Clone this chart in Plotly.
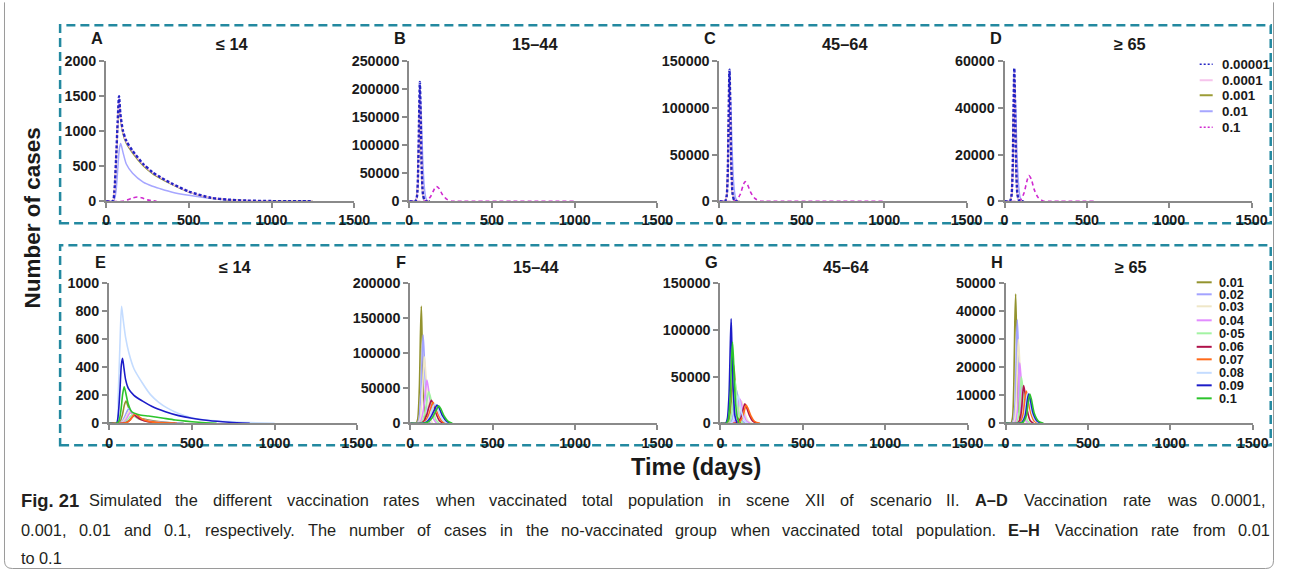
import plotly.graph_objects as go

# Layout positions below are written in page pixels of the final 1290 x 577 image.
# The page keeps a small body margin and the capture is rescaled by (SX, SY),
# so page pixels are converted to figure pixels before use.
FIG_W, FIG_H = 1290, 577
MARGIN_X, MARGIN_Y = 5, 8
SX, SY = 0.984, 0.972
FS = 1 / ((SX + SY) / 2)          # font-size compensation for the rescale

# ---------------------------------------------------------------- data
TOP_RATES = ["0.00001", "0.0001", "0.001", "0.01", "0.1"]
BOTTOM_RATES = ["0.01", "0.02", "0.03", "0.04", "0·05", "0.06", "0.07", "0.08", "0.09", "0.1"]
X_TICKS = [0, 500, 1000, 1500]

# A: <=14, rates 0.00001 .. 0.1
A_DAYS = [
    [0, 40, 50, 60, 70, 78, 86, 102, 122, 160, 224, 280, 327, 400, 500, 633, 735, 850, 1000, 1100, 1180, 1250],
    [0, 40, 50, 60, 70, 78, 86, 102, 122, 160, 224, 280, 327, 400, 500, 633, 735, 850, 1000, 1100, 1180, 1250],
    [0, 40, 50, 60, 70, 78, 86, 102, 122, 160, 224, 280, 327, 400, 500, 633, 735, 850, 1000, 1100, 1180, 1250],
    [0, 40, 50, 60, 70, 80, 88, 102, 122, 160, 224, 280, 327, 400, 500, 600, 700, 800],
    [0, 100, 130, 160, 188, 215, 250, 305],
]
A_CASES = [
    [0, 0, 150, 600, 1150, 1500, 1250, 1005, 863, 720, 533, 415, 345, 250, 140, 50, 24, 10, 3, 0, 0, 0],
    [0, 0, 145, 590, 1130, 1480, 1235, 990, 852, 710, 525, 409, 340, 246, 137, 49, 23, 10, 3, 0, 0, 0],
    [0, 0, 140, 570, 1100, 1445, 1205, 965, 830, 690, 508, 396, 328, 237, 131, 46, 21, 9, 2, 0, 0, 0],
    [0, 0, 30, 150, 450, 750, 825, 698, 533, 400, 274, 215, 180, 130, 85, 50, 25, 0],
    [0, 0, 20, 48, 61, 50, 20, 0],
]
# B: 15-44
B_DAYS = [
    [0, 36, 46, 53, 59, 64, 69, 75, 83, 95, 110, 125],
    [0, 36, 46, 53, 59, 64, 69, 75, 83, 95, 110, 125],
    [0, 36, 46, 53, 59, 64, 69, 75, 83, 95, 110, 125],
    [0, 36, 46, 53, 59, 65, 72, 80, 90, 100, 112, 125],
    [0, 90, 110, 130, 150, 164, 180, 200, 225, 260, 290, 320, 1000],
]
B_CASES = [
    [0, 0, 8000, 50000, 145000, 213000, 150000, 60000, 12000, 0, 0, 0],
    [0, 0, 7500, 48000, 140000, 207000, 146000, 58000, 11500, 0, 0, 0],
    [0, 0, 7000, 46000, 136000, 200000, 142000, 56000, 11000, 0, 0, 0],
    [0, 0, 9000, 52000, 140000, 195000, 160000, 85000, 28000, 6000, 0, 0],
    [0, 0, 2000, 9000, 21000, 26500, 23000, 12000, 4000, 0, 0, 0, 0],
]
# C: 45-64
C_DAYS = [
    [0, 34, 44, 51, 56, 61, 66, 72, 80, 92, 105, 120],
    [0, 34, 44, 51, 56, 61, 66, 72, 80, 92, 105, 120],
    [0, 34, 44, 51, 56, 61, 66, 72, 80, 92, 105, 120],
    [0, 34, 44, 51, 57, 62, 69, 77, 87, 97, 110, 125],
    [0, 85, 105, 125, 143, 155, 170, 190, 215, 250, 280, 310, 1000],
]
C_CASES = [
    [0, 0, 6000, 35000, 95000, 141000, 100000, 40000, 8000, 0, 0, 0],
    [0, 0, 5800, 34000, 92000, 137000, 97000, 39000, 7800, 0, 0, 0],
    [0, 0, 5600, 33000, 89000, 133000, 94000, 37500, 7500, 0, 0, 0],
    [0, 0, 6000, 34000, 90000, 128000, 104000, 55000, 18000, 4000, 0, 0],
    [0, 0, 1500, 7000, 16500, 21000, 18000, 9500, 3000, 0, 0, 0, 0],
]
# D: >=65
D_DAYS = [
    [0, 32, 42, 49, 54, 59, 64, 70, 78, 90, 102, 115],
    [0, 32, 42, 49, 54, 59, 64, 70, 78, 90, 102, 115],
    [0, 32, 42, 49, 54, 59, 64, 70, 78, 90, 102, 115],
    [0, 32, 42, 49, 55, 60, 67, 75, 85, 95, 108, 120],
    [0, 80, 100, 118, 135, 148, 162, 180, 205, 240, 270, 300, 550],
]
D_CASES = [
    [0, 0, 2500, 14000, 38000, 57000, 40000, 16000, 3000, 0, 0, 0],
    [0, 0, 2400, 13500, 37000, 55500, 39000, 15500, 2900, 0, 0, 0],
    [0, 0, 2300, 13000, 36000, 54000, 38000, 15000, 2800, 0, 0, 0],
    [0, 0, 2400, 13000, 35000, 51000, 41000, 21000, 7000, 1500, 0, 0],
    [0, 0, 800, 3500, 8500, 11000, 9500, 5000, 1500, 0, 0, 0, 0],
]
# E: <=14, rates 0.01 .. 0.1
E_DAYS = [
    [0, 45, 65, 80, 92, 102, 115, 136, 180, 238, 340, 450],
    [0, 50, 75, 95, 110, 120, 135, 160, 200, 260, 350, 450],
    [0, 55, 80, 100, 115, 125, 140, 165, 210, 280, 380],
    [0, 60, 85, 105, 120, 132, 148, 172, 215, 285, 390],
    [0, 65, 92, 112, 128, 140, 156, 180, 225, 295, 400],
    [0, 75, 100, 122, 140, 152, 168, 192, 235, 300, 400],
    [0, 78, 105, 128, 146, 158, 174, 198, 240, 305, 410],
    [0, 45, 55, 65, 75, 85, 100, 120, 150, 200, 250, 300, 350, 420, 500, 600, 725, 850, 1000],
    [0, 45, 55, 65, 74, 81, 90, 100, 116, 150, 200, 260, 340, 420, 500, 600, 725, 850],
    [0, 45, 60, 72, 82, 91, 100, 115, 136, 180, 238, 320, 400, 542, 650],
]
E_CASES = [
    [0, 0, 10, 60, 130, 159, 120, 71, 40, 24, 8, 0],
    [0, 0, 10, 50, 90, 107, 85, 55, 30, 15, 5, 0],
    [0, 0, 8, 40, 75, 90, 70, 45, 22, 8, 0],
    [0, 0, 6, 32, 65, 80, 62, 40, 20, 7, 0],
    [0, 0, 5, 25, 50, 60, 48, 30, 15, 5, 0],
    [0, 0, 4, 20, 45, 58, 45, 27, 12, 4, 0],
    [0, 0, 5, 25, 55, 70, 55, 32, 14, 5, 0],
    [0, 0, 200, 550, 835, 740, 610, 500, 390, 290, 205, 150, 110, 70, 40, 22, 12, 5, 0],
    [0, 0, 60, 230, 420, 465, 390, 310, 250, 200, 160, 120, 83, 55, 36, 20, 8, 0],
    [0, 0, 20, 100, 210, 261, 220, 140, 83, 62, 52, 38, 24, 8, 0],
]
# F: 15-44
F_DAYS = [
    [0, 35, 45, 55, 62, 67, 72, 80, 90, 100],
    [0, 40, 52, 62, 72, 78, 85, 95, 108, 120],
    [0, 45, 58, 70, 80, 86, 93, 105, 120, 135],
    [0, 50, 65, 80, 93, 101, 110, 125, 142, 160],
    [0, 55, 72, 88, 104, 112, 122, 138, 156, 175],
    [0, 60, 80, 98, 118, 128, 140, 158, 178, 200],
    [0, 65, 88, 108, 128, 138, 150, 170, 192, 215],
    [0, 70, 94, 115, 138, 148, 160, 180, 204, 228],
    [0, 75, 100, 122, 150, 162, 175, 195, 220, 245],
    [0, 80, 108, 132, 160, 172, 185, 205, 230, 255],
]
F_CASES = [
    [0, 0, 6000, 50000, 130000, 167000, 120000, 45000, 8000, 0],
    [0, 0, 5000, 35000, 95000, 126000, 95000, 40000, 8000, 0],
    [0, 0, 5000, 30000, 75000, 95000, 75000, 35000, 8000, 0],
    [0, 0, 4000, 20000, 48000, 62000, 50000, 25000, 6000, 0],
    [0, 0, 3000, 15000, 36000, 45000, 38000, 19000, 5000, 0],
    [0, 0, 2500, 11000, 27000, 33000, 27000, 13000, 3500, 0],
    [0, 0, 2200, 10000, 24500, 30000, 25000, 12000, 3200, 0],
    [0, 0, 2100, 9000, 23000, 28000, 23500, 11500, 3000, 0],
    [0, 0, 2000, 8000, 21000, 26200, 22000, 11000, 3000, 0],
    [0, 0, 1900, 7500, 20000, 25000, 21000, 10500, 2800, 0],
]
# G: 45-64
G_DAYS = [
    [0, 38, 52, 63, 73, 80, 87, 97, 110, 125],
    [0, 50, 66, 78, 90, 97, 105, 117, 132, 150],
    [0, 70, 90, 106, 120, 128, 137, 152, 170, 192],
    [0, 62, 82, 98, 110, 118, 127, 142, 160, 180],
    [0, 44, 58, 70, 82, 88, 95, 106, 120, 136],
    [0, 85, 105, 124, 140, 148, 158, 176, 198, 225],
    [0, 90, 112, 132, 148, 156, 166, 185, 208, 240],
    [0, 56, 74, 88, 101, 108, 116, 130, 147, 165],
    [0, 32, 42, 52, 60, 65, 70, 78, 88, 100],
    [0, 35, 47, 58, 67, 73, 79, 88, 100, 112],
]
G_CASES = [
    [0, 0, 3000, 18000, 48000, 63000, 50000, 22000, 5000, 0],
    [0, 0, 2000, 10000, 28000, 36000, 29000, 13000, 3000, 0],
    [0, 0, 1500, 7000, 19000, 24000, 19500, 9000, 2000, 0],
    [0, 0, 1500, 7500, 20500, 26000, 21000, 9500, 2200, 0],
    [0, 0, 2500, 13000, 36000, 46000, 37000, 16000, 4000, 0],
    [0, 0, 1300, 6000, 16500, 21000, 17500, 8500, 2000, 0],
    [0, 0, 1200, 5500, 15500, 19500, 16500, 8000, 1800, 0],
    [0, 0, 1800, 8500, 23500, 30000, 24000, 11000, 2500, 0],
    [0, 0, 5000, 30000, 85000, 112000, 80000, 34000, 8000, 0],
    [0, 0, 4000, 25000, 65000, 87000, 70000, 32000, 8000, 0],
]
# H: >=65
H_DAYS = [
    [0, 32, 42, 50, 56, 61, 66, 73, 82, 95],
    [0, 38, 50, 59, 66, 71, 77, 85, 96, 110],
    [0, 42, 55, 65, 73, 78, 85, 94, 106, 120],
    [0, 48, 62, 73, 81, 86, 93, 104, 118, 135],
    [0, 55, 70, 82, 91, 96, 104, 116, 132, 150],
    [0, 62, 80, 94, 104, 110, 118, 132, 150, 170],
    [0, 70, 90, 106, 118, 126, 136, 152, 174, 200],
    [0, 76, 97, 114, 126, 134, 144, 160, 184, 210],
    [0, 80, 101, 119, 132, 140, 150, 167, 192, 220],
    [0, 86, 107, 126, 139, 147, 157, 174, 200, 230],
]
H_CASES = [
    [0, 0, 2000, 14000, 36000, 46200, 34000, 13000, 2500, 0],
    [0, 0, 1600, 10000, 28000, 37000, 28000, 11000, 2200, 0],
    [0, 0, 1300, 8000, 23000, 30000, 23000, 9000, 1800, 0],
    [0, 0, 900, 5500, 16500, 21600, 17000, 7000, 1400, 0],
    [0, 0, 700, 4200, 12500, 16500, 13000, 5500, 1100, 0],
    [0, 0, 600, 3500, 10500, 13500, 10800, 4500, 900, 0],
    [0, 0, 500, 3000, 9000, 11500, 9300, 3900, 800, 0],
    [0, 0, 450, 2800, 8400, 10800, 8700, 3700, 750, 0],
    [0, 0, 450, 2700, 8200, 10500, 8500, 3600, 750, 0],
    [0, 0, 450, 2700, 8200, 10500, 8500, 3600, 750, 0],
]

CAPTION_LABEL = "Fig. 21"
CAPTION_LINES = [
    "Simulated the different vaccination rates when vaccinated total population in scene XII "
    "of scenario II. <b>A–D</b> Vaccination rate was 0.0001,",
    "0.001, 0.01 and 0.1, respectively. The number of cases in the no-vaccinated group when "
    "vaccinated total population. <b>E–H</b> Vaccination rate from 0.01",
    "to 0.1",
]

# ---------------------------------------------------------------- styles
TOP_COLORS = ["#2424c4", "#f6c4ec", "#9c9c36", "#a6a6ff", "#d02ad0"]
TOP_DASH = ["3px,2px", "solid", "solid", "solid", "4px,3px"]
TOP_WIDTH = [2.4, 1.5, 1.5, 1.5, 1.6]
TOP_DRAW_ORDER = [3, 2, 1, 4, 0]
BOTTOM_COLORS = ["#93932e", "#a3a3ff", "#efe7c8", "#e28cff", "#a3f3a3",
                 "#b0124a", "#ff6a1a", "#c4dcff", "#1c1cc8", "#2cc42c"]

AXIS_GREY = "#8a8a8a"
TEXT_DARK = "#1a1a1a"
TEAL = "#2389a0"
FONT = "Liberation Sans, Arial, sans-serif"

# Arial / Liberation Sans advance widths (1/1000 em) used to justify the caption
ARIAL_ADV = {" ": 278, ",": 278, ".": 278, "-": 333, "–": 556, "(": 333, ")": 333,
             "A": 667, "D": 722, "E": 667, "H": 722, "I": 278, "T": 611, "V": 667, "X": 667,
             "a": 556, "b": 556, "c": 500, "d": 556, "e": 556, "f": 278, "g": 556, "h": 556,
             "i": 222, "j": 222, "k": 500, "l": 222, "m": 833, "n": 556, "o": 556, "p": 556,
             "q": 556, "r": 333, "s": 500, "t": 278, "u": 556, "v": 500, "w": 722, "x": 500,
             "y": 500, "z": 500}


def fx(px):
    """page pixel column -> figure pixel column"""
    return px / SX - MARGIN_X


def fy(py):
    """page pixel row -> figure pixel row"""
    return py / SY - MARGIN_Y


def X(px):
    return fx(px) / FIG_W


def Y(py):
    return 1 - fy(py) / FIG_H


def fsize(s):
    return round(s * FS, 2)


def word_width(word, size):
    """advance width of a word in figure pixels"""
    bold = word.startswith("<b>")
    plain = word.replace("<b>", "").replace("</b>", "")
    units = sum(ARIAL_ADV.get(ch, 556) for ch in plain)
    return units * size / 1000 * (1.05 if bold else 1.0)


panels = [
    # letter, title, days, cases, group, ymax, dtick, x0, x1, ytop, ybottom
    ("A", "≤ 14", A_DAYS, A_CASES, "top", 2000, 500, 107, 355, 61, 201),
    ("B", "15–44", B_DAYS, B_CASES, "top", 250000, 50000, 410, 658, 61, 201),
    ("C", "45–64", C_DAYS, C_CASES, "top", 150000, 50000, 720, 967, 61, 201),
    ("D", "≥ 65", D_DAYS, D_CASES, "top", 60000, 20000, 1005, 1252, 61, 201),
    ("E", "≤ 14", E_DAYS, E_CASES, "bottom", 1000, 200, 110, 358, 283, 423),
    ("F", "15–44", F_DAYS, F_CASES, "bottom", 200000, 50000, 411, 658, 283, 423),
    ("G", "45–64", G_DAYS, G_CASES, "bottom", 150000, 50000, 721, 968, 283, 423),
    ("H", "≥ 65", H_DAYS, H_CASES, "bottom", 50000, 10000, 1006, 1253, 283, 423),
]

fig = go.Figure()
layout = dict(
    width=FIG_W, height=FIG_H, margin=dict(l=0, r=0, t=0, b=0, pad=0),
    paper_bgcolor="white", plot_bgcolor="rgba(0,0,0,0)", showlegend=False,
)
annotations = []
shapes = []

for i, (letter, title, days, cases, group, ymax, dtick, x0, x1, yt, yb) in enumerate(panels, start=1):
    suffix = "" if i == 1 else str(i)
    axis_common = dict(
        showline=True, linecolor=AXIS_GREY, linewidth=2,
        ticks="outside", ticklen=5, tickwidth=1.5, tickcolor=AXIS_GREY,
        showgrid=False, zeroline=False, fixedrange=True,
        tickfont=dict(family=FONT, size=fsize(14), color=TEXT_DARK, weight="bold"),
        tickformat="d",
    )
    layout["xaxis" + suffix] = dict(axis_common, domain=[X(x0), X(x1)], range=[0, 1500],
                                    tickvals=X_TICKS, anchor="y" + suffix)
    layout["yaxis" + suffix] = dict(axis_common, domain=[Y(yb), Y(yt)], range=[0, ymax],
                                    tickvals=list(range(0, ymax + 1, dtick)), anchor="x" + suffix)

    if group == "top":
        for k in TOP_DRAW_ORDER:
            fig.add_trace(go.Scatter(
                x=days[k], y=cases[k], mode="lines", name=TOP_RATES[k],
                line=dict(color=TOP_COLORS[k], width=TOP_WIDTH[k], dash=TOP_DASH[k],
                          shape="spline", smoothing=0.7),
                xaxis="x" + suffix, yaxis="y" + suffix, hoverinfo="skip",
            ))
    else:
        for k in range(len(BOTTOM_RATES)):
            fig.add_trace(go.Scatter(
                x=days[k], y=cases[k], mode="lines", name=BOTTOM_RATES[k],
                line=dict(color=BOTTOM_COLORS[k], width=1.6, shape="spline", smoothing=0.7),
                xaxis="x" + suffix, yaxis="y" + suffix, hoverinfo="skip",
            ))

    # panel letter and age-group title
    ly = 38 if group == "top" else 262
    ty = 44 if group == "top" else 267
    annotations.append(dict(
        text=f"<b>{letter}</b>", x=X(x0 - 9), y=Y(ly), xref="paper", yref="paper",
        xanchor="center", yanchor="middle", showarrow=False,
        font=dict(family=FONT, size=fsize(16), color=TEXT_DARK)))
    annotations.append(dict(
        text=f"<b>{title}</b>", x=X((x0 + x1) / 2 + 2), y=Y(ty), xref="paper", yref="paper",
        xanchor="center", yanchor="middle", showarrow=False,
        font=dict(family=FONT, size=fsize(16), color=TEXT_DARK)))

# ---------------------------------------------------------------- legends
top_leg_y = [64, 80, 95, 111, 127]
for k, rate in enumerate(TOP_RATES):
    shapes.append(dict(type="line", xref="paper", yref="paper",
                       x0=X(1200), x1=X(1213), y0=Y(top_leg_y[k]), y1=Y(top_leg_y[k]),
                       line=dict(color=TOP_COLORS[k], width=1.6 if k in (0, 4) else 2,
                                 dash="2px,2px" if k in (0, 4) else "solid")))
    annotations.append(dict(
        text=f"<b>{rate}</b>", x=X(1220), y=Y(top_leg_y[k]), xref="paper", yref="paper",
        xanchor="left", yanchor="middle", showarrow=False,
        font=dict(family=FONT, size=fsize(13), color=TEXT_DARK)))

bottom_leg_y = [282, 294, 306, 320, 333, 346.5, 359, 372.5, 385, 398]
for k, rate in enumerate(BOTTOM_RATES):
    shapes.append(dict(type="line", xref="paper", yref="paper",
                       x0=X(1197), x1=X(1212), y0=Y(bottom_leg_y[k]), y1=Y(bottom_leg_y[k]),
                       line=dict(color=BOTTOM_COLORS[k], width=2)))
    annotations.append(dict(
        text=f"<b>{rate}</b>", x=X(1217), y=Y(bottom_leg_y[k]), xref="paper", yref="paper",
        xanchor="left", yanchor="middle", showarrow=False,
        font=dict(family=FONT, size=fsize(12.5), color=TEXT_DARK)))

# ---------------------------------------------------------------- frames
for (bx0, by0, bx1, by1) in [(61, 25, 1271, 223), (61, 245, 1271, 445)]:
    shapes.append(dict(type="rect", xref="paper", yref="paper",
                       x0=X(bx0), x1=X(bx1), y0=Y(by1), y1=Y(by0),
                       line=dict(color=TEAL, width=2.5, dash="9px,5px"), layer="below"))

# outer rounded frame along the figure's left, bottom and right edges
fl, fr, fb, r = 0.5 / FIG_W, 1 - 0.5 / FIG_W, 0.5 / FIG_H, 8
rx, ry = r / FIG_W, r / FIG_H
frame_path = (f"M {fl},1.01 L {fl},{fb + ry} Q {fl},{fb} {fl + rx},{fb} "
              f"L {fr - rx},{fb} Q {fr},{fb} {fr},{fb + ry} L {fr},1.01")
shapes.append(dict(type="path", xref="paper", yref="paper", path=frame_path,
                   line=dict(color="#9a9a9a", width=1)))

# ---------------------------------------------------------------- axis titles
annotations.append(dict(
    text="<b>Number of cases</b>", x=X(33), y=Y(218), xref="paper", yref="paper",
    xanchor="center", yanchor="middle", textangle=-90, showarrow=False,
    font=dict(family=FONT, size=fsize(22), color=TEXT_DARK)))
annotations.append(dict(
    text="<b>Time (days)</b>", x=X(697), y=Y(467), xref="paper", yref="paper",
    xanchor="center", yanchor="middle", showarrow=False,
    font=dict(family=FONT, size=fsize(23), color=TEXT_DARK)))

# ---------------------------------------------------------------- caption (justified)
CAP_SIZE = fsize(16)
CAP_COLOR = "#231f20"
annotations.append(dict(
    text=f"<b>{CAPTION_LABEL}</b>", x=X(20), y=Y(500), xref="paper", yref="paper",
    xanchor="left", yanchor="middle", showarrow=False,
    font=dict(family=FONT, size=fsize(18), color=CAP_COLOR)))

line_specs = [(88, 1263, 500, True), (20, 1268, 530, True), (20, None, 558, False)]
for (lx0, lx1, ly, justify), text in zip(line_specs, CAPTION_LINES):
    words = text.split(" ")
    widths = [word_width(w, CAP_SIZE) for w in words]
    if justify and len(words) > 1:
        gap = (fx(lx1) - fx(lx0) - sum(widths)) / (len(words) - 1)
    else:
        gap = ARIAL_ADV[" "] * CAP_SIZE / 1000
    cx = fx(lx0)
    for w, ww in zip(words, widths):
        annotations.append(dict(
            text=w, x=cx / FIG_W, y=Y(ly), xref="paper", yref="paper",
            xanchor="left", yanchor="middle", showarrow=False,
            font=dict(family=FONT, size=CAP_SIZE, color=CAP_COLOR)))
        cx += ww + gap

layout["annotations"] = annotations
layout["shapes"] = shapes
fig.update_layout(**layout)
fig.write_html("out.html")
